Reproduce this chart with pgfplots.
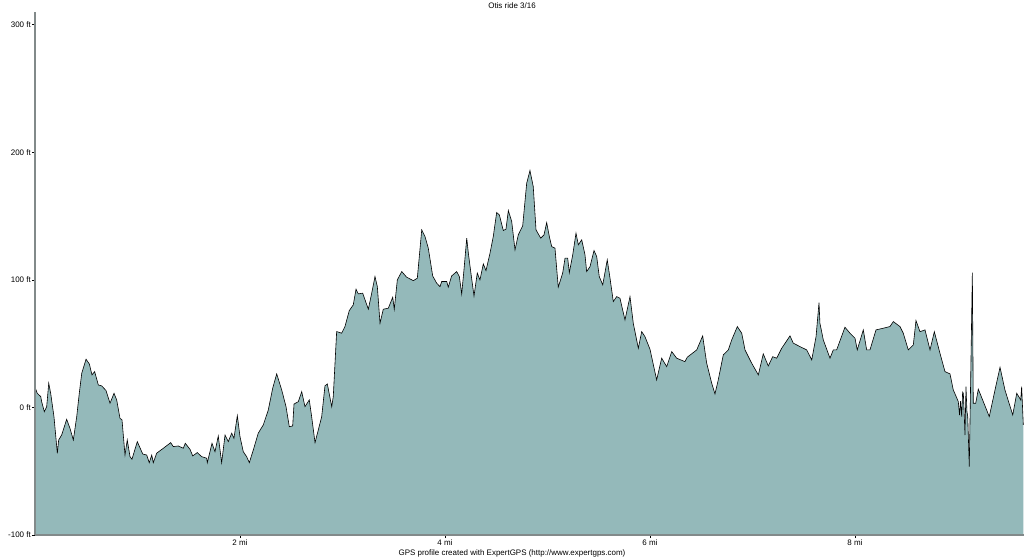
\documentclass[border=0pt]{standalone}
\usepackage{fontspec}
\setmainfont{Liberation Sans}
\usepackage{pgfplots}
\usepackage{pgfplotstable}
\pgfplotsset{compat=1.18}

\definecolor{areafill}{RGB}{148,185,186}
\definecolor{axgray}{RGB}{130,138,138}

% elevation profile: distance (mi), elevation (ft)
\pgfplotstableread{
mi ft
0.000 16.0
0.022 11.1
0.056 8.5
0.065 4.5
0.091 -3.3
0.114 0.6
0.134 19.0
0.153 11.1
0.185 -7.2
0.218 -35.9
0.231 -25.5
0.260 -21.6
0.309 -9.3
0.341 -16.3
0.374 -25.5
0.407 -7.2
0.432 11.1
0.456 26.8
0.498 37.8
0.530 34.1
0.556 25.5
0.582 28.1
0.618 17.6
0.651 16.9
0.693 13.2
0.732 3.3
0.771 11.1
0.797 5.9
0.829 -8.5
0.849 -9.8
0.878 -37.3
0.900 -25.5
0.927 -38.6
0.946 -40.6
0.998 -26.8
1.051 -36.5
1.090 -37.3
1.115 -43.3
1.139 -37.3
1.154 -43.3
1.187 -35.9
1.252 -32.0
1.324 -27.6
1.349 -30.7
1.398 -30.2
1.447 -32.0
1.466 -28.1
1.512 -32.8
1.539 -38.0
1.583 -35.4
1.626 -38.6
1.675 -39.8
1.681 -43.3
1.727 -28.1
1.756 -34.7
1.788 -22.4
1.821 -43.3
1.854 -21.6
1.886 -26.8
1.919 -20.2
1.941 -24.2
1.974 -6.4
2.000 -22.9
2.032 -34.7
2.065 -38.6
2.091 -43.3
2.130 -33.3
2.178 -20.2
2.227 -13.7
2.276 -2.0
2.319 15.1
2.358 26.3
2.407 13.7
2.449 0.6
2.481 -15.1
2.514 -14.5
2.527 2.7
2.569 4.5
2.602 12.4
2.634 0.6
2.676 5.9
2.699 -7.2
2.732 -27.6
2.764 -17.6
2.797 -7.2
2.829 16.9
2.852 18.4
2.895 0.6
2.910 8.5
2.943 59.5
2.992 58.2
3.024 63.4
3.066 75.9
3.105 80.4
3.132 92.7
3.154 89.0
3.197 89.6
3.252 77.0
3.285 89.6
3.317 102.6
3.340 94.7
3.366 66.0
3.398 77.0
3.447 77.8
3.490 86.4
3.505 77.0
3.535 100.0
3.578 106.5
3.626 102.1
3.691 99.4
3.730 101.3
3.773 139.2
3.805 134.0
3.837 124.9
3.880 103.1
3.919 97.4
3.951 94.7
3.968 98.7
4.017 98.7
4.032 94.3
4.065 103.1
4.114 106.5
4.140 102.6
4.163 89.0
4.185 107.8
4.212 132.7
4.228 120.9
4.251 106.5
4.283 87.4
4.315 105.3
4.341 100.0
4.374 112.5
4.400 107.3
4.439 120.9
4.471 134.0
4.504 152.8
4.530 151.0
4.569 138.7
4.595 139.8
4.618 154.4
4.651 145.7
4.683 123.5
4.715 135.3
4.758 142.4
4.797 175.8
4.829 185.7
4.861 173.2
4.888 139.2
4.934 132.7
4.966 135.3
4.992 144.9
5.018 134.0
5.041 126.1
5.073 124.9
5.105 94.3
5.148 105.3
5.171 117.0
5.197 117.0
5.213 105.7
5.246 119.6
5.278 136.6
5.301 127.5
5.334 131.4
5.366 119.6
5.382 106.5
5.415 110.4
5.454 123.0
5.480 118.3
5.505 102.6
5.539 96.1
5.583 115.7
5.610 101.3
5.642 83.0
5.675 86.9
5.707 85.6
5.756 68.6
5.805 86.9
5.837 66.0
5.886 46.4
5.919 59.4
5.951 55.5
6.000 45.6
6.065 21.6
6.114 38.6
6.163 32.0
6.212 43.8
6.260 38.6
6.341 35.9
6.364 39.4
6.456 45.1
6.514 56.1
6.553 34.7
6.602 19.0
6.634 10.6
6.666 21.6
6.715 41.2
6.764 45.1
6.797 52.9
6.852 63.4
6.895 58.2
6.927 45.1
6.992 34.7
7.057 25.5
7.105 42.0
7.154 32.5
7.197 39.8
7.236 38.6
7.285 46.4
7.366 56.1
7.398 50.4
7.463 47.7
7.529 45.1
7.578 37.3
7.620 55.5
7.649 82.2
7.658 66.0
7.691 52.9
7.756 38.6
7.788 45.1
7.821 45.1
7.902 62.9
7.951 58.2
8.000 54.3
8.022 45.1
8.081 60.8
8.114 45.1
8.146 45.1
8.205 60.8
8.276 62.1
8.341 63.4
8.374 67.3
8.439 63.4
8.471 58.2
8.520 45.1
8.569 49.0
8.595 68.1
8.634 59.4
8.683 60.8
8.732 45.1
8.774 59.4
8.829 42.5
8.878 28.1
8.927 26.3
8.959 13.7
8.990 8.0
9.008 4.5
9.020 -6.0
9.030 5.0
9.041 -7.2
9.050 12.0
9.057 11.1
9.064 -2.0
9.073 -21.6
9.083 16.3
9.092 -3.0
9.100 -7.2
9.115 -46.4
9.129 24.2
9.145 105.7
9.154 3.3
9.178 3.3
9.203 14.3
9.252 4.5
9.310 -7.2
9.366 13.7
9.415 31.5
9.463 13.7
9.539 -5.9
9.578 11.1
9.617 5.9
9.626 16.3
9.642 -13.7
}\profile

\begin{document}
\begin{tikzpicture}[font=\fontsize{8}{9.5}\selectfont]
\begin{axis}[
    name=ax,
    at={(35bp,24bp)}, anchor=south west,
    scale only axis,
    width=989bp, height=523bp,
    xmin=0, xmax=9.649,
    ymin=-100, ymax=310,
    axis x line=bottom, axis y line=left,
    axis line style={-, draw=axgray, line width=1.3bp},
    axis on top,
    xtick={2,4,6,8},
    xticklabels={2 mi,4 mi,6 mi,8 mi},
    ytick={-100,0,100,200,300},
    yticklabels={-100 ft,0 ft,100 ft,200 ft,300 ft},
    tick align=outside,
    major tick length=3bp,
    tick style={black, line width=0.6bp},
    yticklabel style={inner sep=1bp},
    xticklabel style={inner sep=2bp},
]
\addplot[draw=none, fill=areafill] table[x=mi, y=ft] {\profile} |- (axis cs:0,-100) -- cycle;
\addplot[black, line width=0.6bp, mark=none] table[x=mi, y=ft] {\profile};
\end{axis}
\node at (512bp,553bp) {Otis ride 3/16};
\node at (512bp,6bp) {GPS profile created with ExpertGPS (http://www.expertgps.com)};
\pgfresetboundingbox
\path[use as bounding box] (0,0) rectangle (1024bp,559bp);
\end{tikzpicture}
\end{document}
